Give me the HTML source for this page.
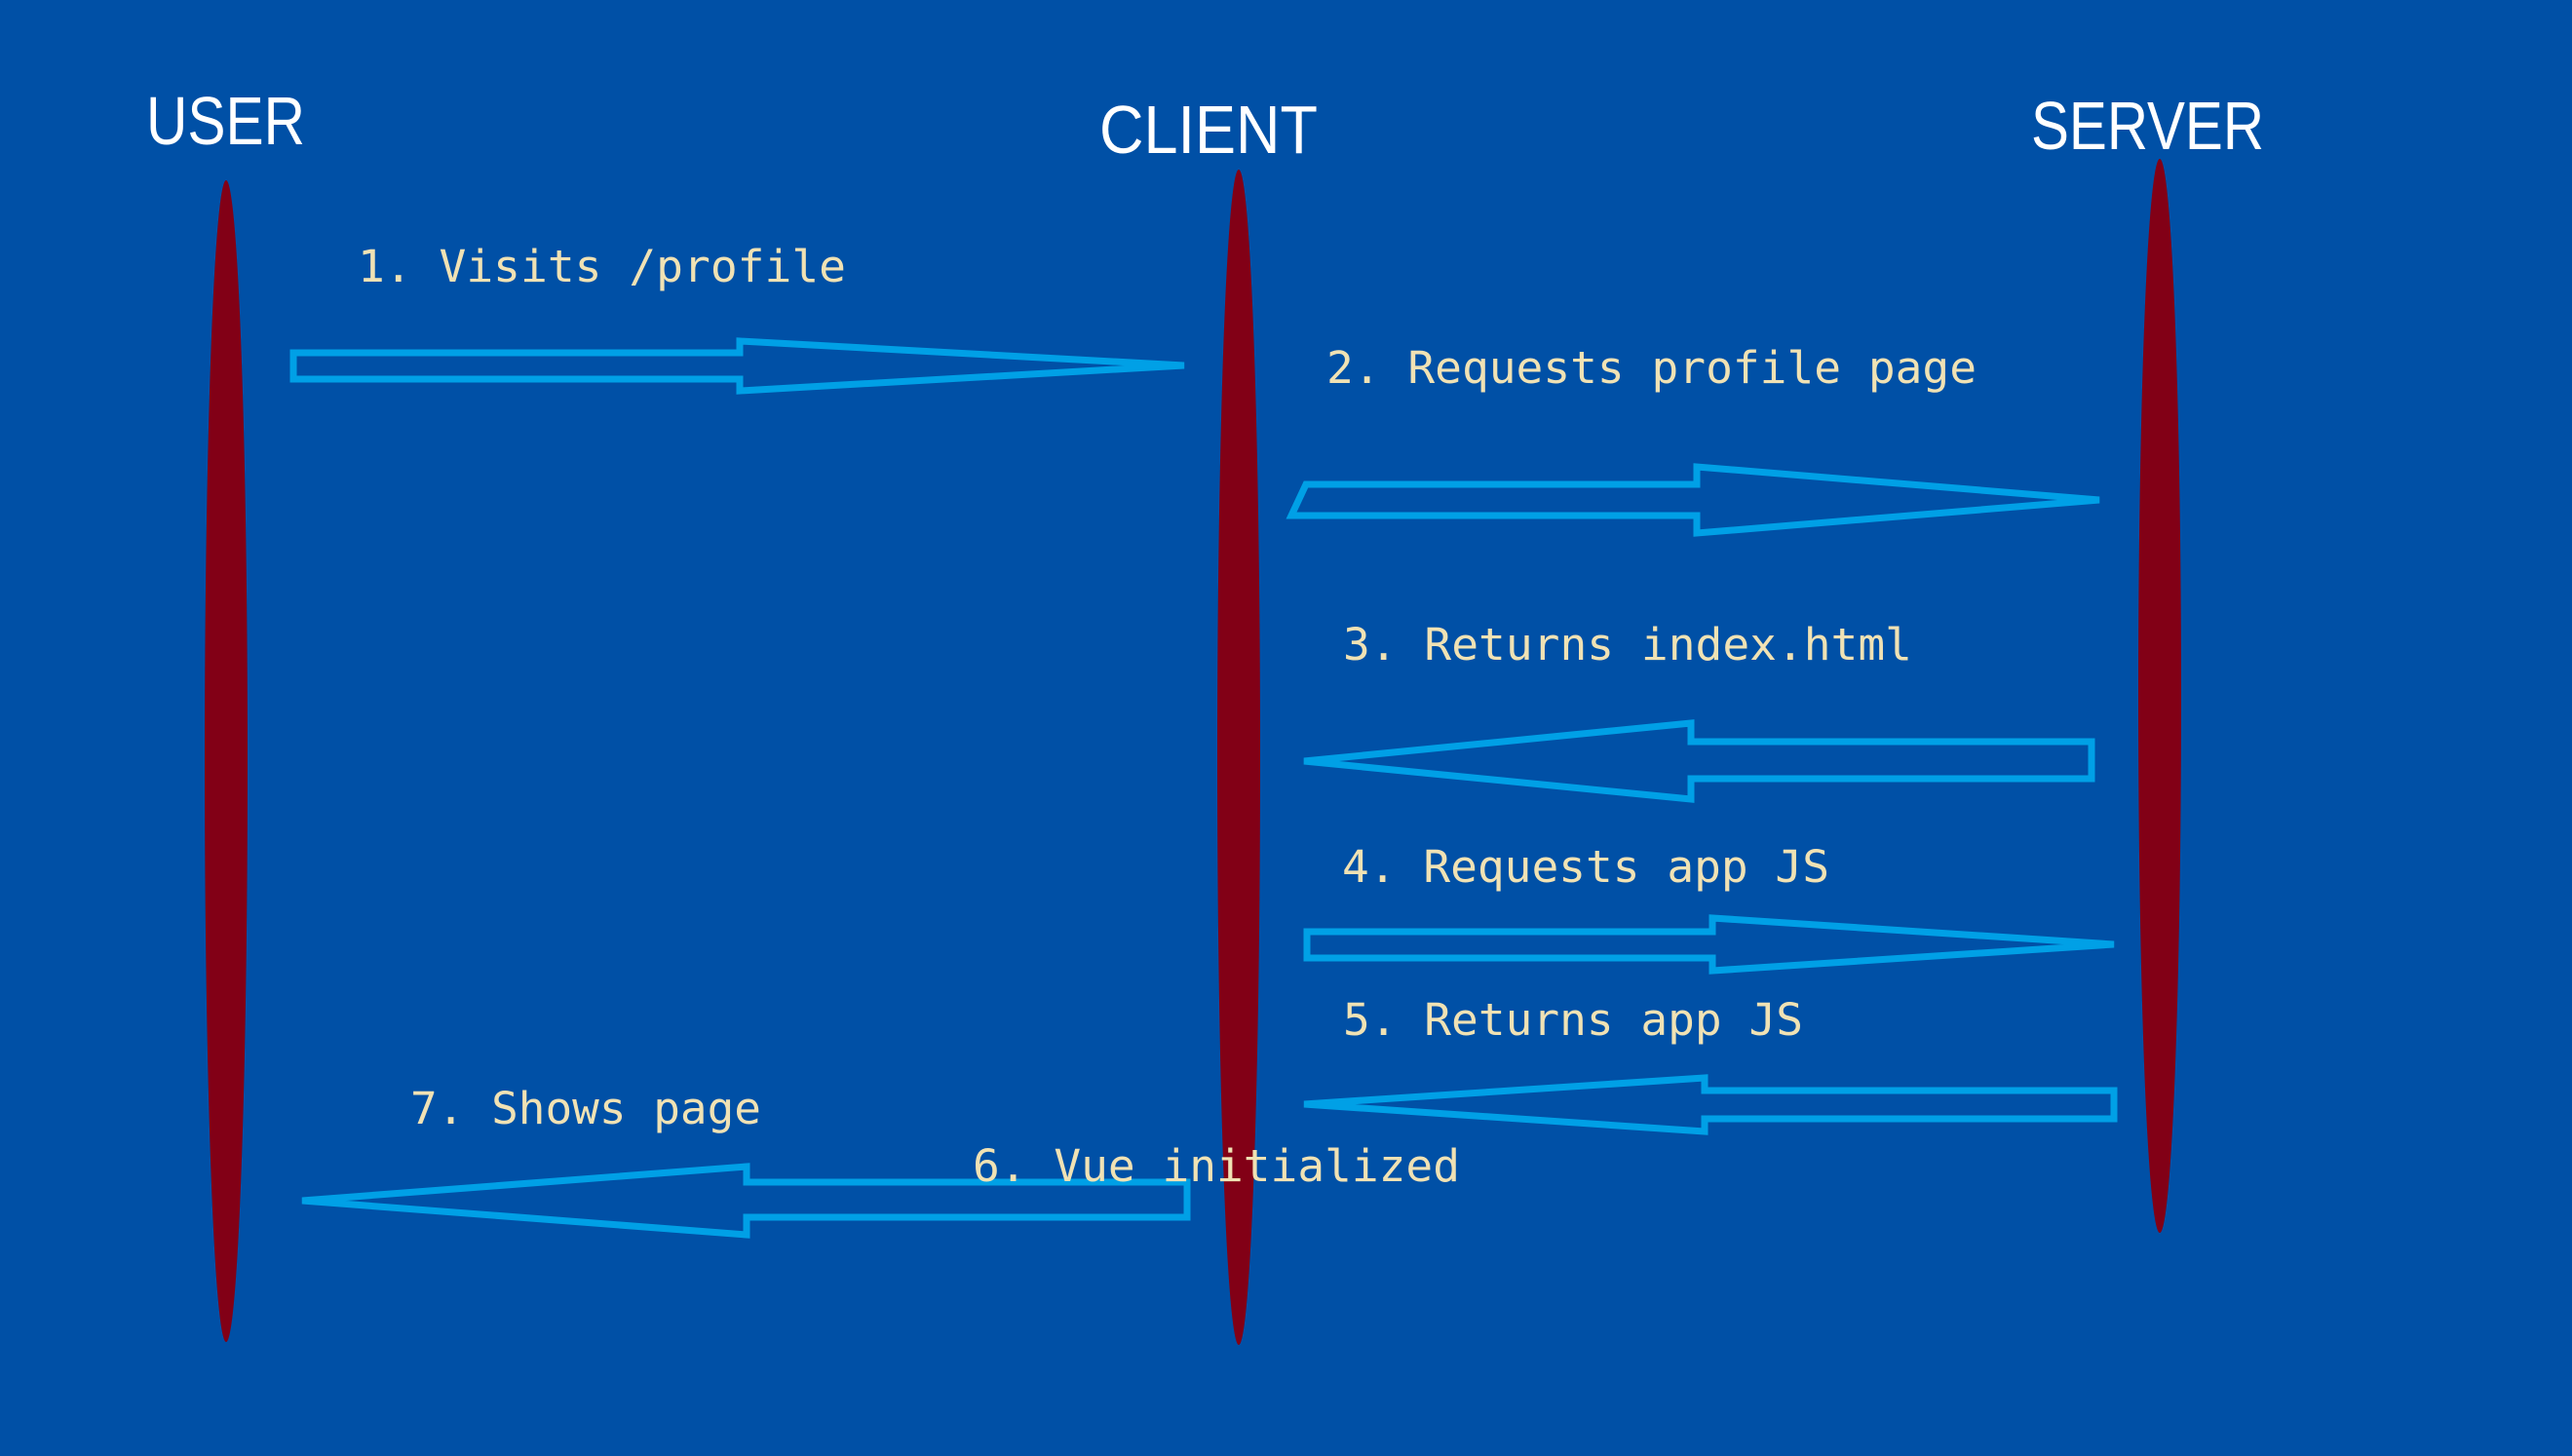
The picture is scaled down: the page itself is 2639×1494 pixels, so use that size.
<!DOCTYPE html>
<html><head><meta charset="utf-8"><style>
html,body{margin:0;padding:0;background:#0050A6;}
svg{display:block}
.t{font-family:"DejaVu Sans Mono","Liberation Mono",monospace;font-size:45px;fill:#F0E2B4}
.h{font-family:"Liberation Sans","DejaVu Sans",sans-serif;font-size:70px;fill:#ffffff}
.a{fill:none;stroke:#00A0E6;stroke-width:7;stroke-linejoin:miter}
</style></head><body>
<svg width="2639" height="1494" viewBox="0 0 2639 1494" xmlns="http://www.w3.org/2000/svg">
<rect width="2639" height="1494" fill="#0050A6"/>
<text class="h" x="150" y="148" textLength="163" lengthAdjust="spacingAndGlyphs">USER</text>
<text class="h" x="1128" y="157" textLength="224" lengthAdjust="spacingAndGlyphs">CLIENT</text>
<text class="h" x="2084" y="153" textLength="239" lengthAdjust="spacingAndGlyphs">SERVER</text>
<ellipse cx="232" cy="781" rx="22" ry="596" fill="#820016"/>
<ellipse cx="1271" cy="777" rx="22" ry="603" fill="#820016"/>
<ellipse cx="2216" cy="714" rx="22" ry="551" fill="#820016"/>
<polygon class="a" points="301,362 759,362 759,350 1215,375 759,401 759,389 301,389"/>
<polygon class="a" points="1340,497 1741,497 1741,479 2154,513 1741,547 1741,529 1325,529"/>
<polygon class="a" points="1338,781 1735,742 1735,761 2146,761 2146,799 1735,799 1735,820"/>
<polygon class="a" points="1341,956 1757,956 1757,942 2169,969 1757,996 1757,983 1341,983"/>
<polygon class="a" points="1338,1133 1749,1106 1749,1119 2169,1119 2169,1148 1749,1148 1749,1161"/>
<polygon class="a" points="310,1232 766,1197 766,1213 1218,1213 1218,1249 766,1249 766,1267"/>
<text class="t" x="367" y="289" textLength="501" lengthAdjust="spacingAndGlyphs">1. Visits /profile</text>
<text class="t" x="1361" y="393" textLength="667" lengthAdjust="spacingAndGlyphs">2. Requests profile page</text>
<text class="t" x="1378" y="677" textLength="584" lengthAdjust="spacingAndGlyphs">3. Returns index.html</text>
<text class="t" x="1377" y="905" textLength="500" lengthAdjust="spacingAndGlyphs">4. Requests app JS</text>
<text class="t" x="1378" y="1062" textLength="472" lengthAdjust="spacingAndGlyphs">5. Returns app JS</text>
<text class="t" x="421" y="1153" textLength="360" lengthAdjust="spacingAndGlyphs">7. Shows page</text>
<text class="t" x="998" y="1212" textLength="500" lengthAdjust="spacingAndGlyphs">6. Vue initialized</text>
</svg>
</body></html>
